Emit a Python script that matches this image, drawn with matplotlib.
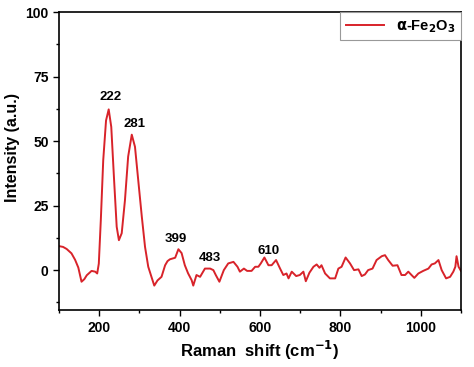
import matplotlib.pyplot as plt
from matplotlib.ticker import MultipleLocator

plt.rcParams['font.family'] = ['Liberation Sans', 'DejaVu Sans']
plt.rcParams['font.weight'] = 'bold'
plt.rcParams['mathtext.default'] = 'bf'

# Raman spectrum
shift = [100, 110, 119, 131, 140, 148, 156, 163, 169, 181, 190, 195, 199, 204, 210, 217,
         223.6, 230, 237, 243.5, 249, 256, 264, 272, 281, 289, 297, 306, 314, 322, 331,
         337, 345, 355, 364, 370, 376, 389, 397, 405, 413, 421, 430, 434, 442, 451,
         463, 476, 484, 490, 499, 510, 521, 534, 544, 550, 560, 568, 579, 588, 596,
         602, 611, 621, 629, 640, 650, 658, 666, 671, 679, 690, 699, 708, 714, 723,
         733, 741, 748, 753, 762, 774, 787, 795, 803, 813, 824, 834, 845, 853, 861,
         869, 880, 890, 903, 911, 919, 930, 942, 952, 961, 969, 977, 984, 994, 1006,
         1019, 1027, 1035, 1044, 1052, 1063, 1073, 1081, 1086, 1089, 1094, 1100]
intensity = [9.3, 9.0, 8.2, 6.5, 4.0, 1.0, -4.5, -3.5, -2.0, -0.3, -0.6, -1.3, 2.5, 19.4, 42.6, 58,
             62.3, 55.5, 35, 16.8, 11.6, 14.3, 27, 44, 52.5, 47.8, 35, 20.7, 9, 1.3, -3.1,
             -6.0, -4.0, -2.6, 1.9, 3.5, 4.2, 4.8, 8.1, 6.6, 1.9, -1.2, -3.9, -6.0, -1.9, -2.6,
             0.6, 0.6, 0, -1.9, -4.5, 0, 2.6, 3.2, 1.3, -0.6, 0.6, -0.3, -0.3, 1.3, 1.3,
             2.6, 4.9, 1.9, 1.9, 3.9, 0.6, -1.9, -1.3, -3.2, -0.6, -2.3, -1.9, -0.6, -4.3, -1,
             1.3, 2.2, 0.9, 1.9, -1.3, -3.2, -3.2, 0.6, 1.3, 4.9, 2.6, 0, 0.3, -2.3, -1.7,
             0, 0.6, 3.9, 5.4, 5.8, 3.9, 1.7, 1.9, -1.9, -1.9, -0.6, -1.9, -3, -1.3, -0.3,
             0.6, 2.2, 2.6, 3.9, 0, -3.2, -2.6, -0.6, 1.3, 5.4, 1.3, -0.3]

peak_labels = ['222', '281', '399', '483', '610']
peak_x = [228.5, 289, 391, 476, 621.5]
peak_y = [67, 56.5, 12, 4.8, 7.5]

fig = plt.figure(figsize=(4.74, 3.67), dpi=100)
ax = fig.add_axes([0.1245, 0.155, 0.848, 0.812])

ax.plot(shift, intensity, color='#d8232a', lw=1.4, label=r'$\alpha$-Fe$_2$O$_3$')

for lab, px, py in zip(peak_labels, peak_x, peak_y):
    ax.text(px, py, lab, ha='center', va='center', fontsize=9.5, fontweight='bold')

ax.set_xlim(100, 1100)
ax.set_ylim(-15.5, 100)
ax.xaxis.set_major_locator(MultipleLocator(200))
ax.xaxis.set_minor_locator(MultipleLocator(100))
ax.yaxis.set_major_locator(MultipleLocator(25))
ax.yaxis.set_minor_locator(MultipleLocator(12.5))
ax.tick_params(which='major', length=4, width=1, labelsize=10, direction='out')
ax.tick_params(which='minor', length=2.5, width=1, direction='out')
for lab in ax.get_xticklabels() + ax.get_yticklabels():
    lab.set_fontweight('bold')
for s in ax.spines.values():
    s.set_linewidth(1.2)

ax.set_xlabel('Raman  shift (cm$^{-1}$)', fontsize=12, fontweight='bold', labelpad=3)
ax.set_ylabel('Intensity (a.u.)', fontsize=11.5, fontweight='bold')
ax.yaxis.set_label_coords(-0.098, 0.545)

leg = ax.legend(loc='upper right', bbox_to_anchor=(1.0, 1.0), fontsize=10.5,
                handlelength=2.6, fancybox=False, framealpha=1, borderaxespad=0.0,
                borderpad=0.4)
leg.get_frame().set_edgecolor('#999999')
leg.get_frame().set_linewidth(0.8)

fig.savefig('out.png', dpi=100)
